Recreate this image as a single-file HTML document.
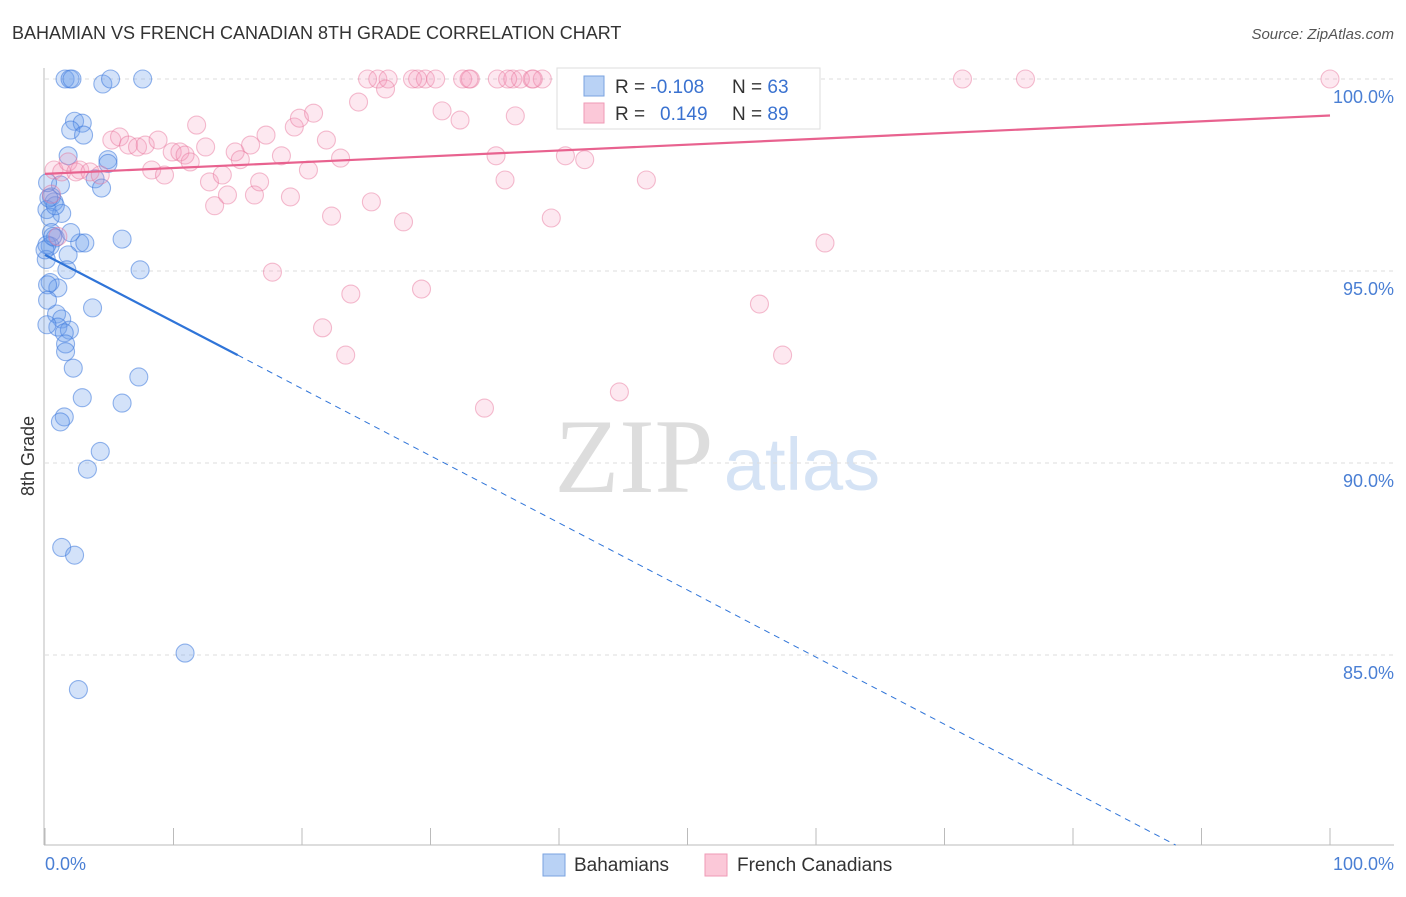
<!DOCTYPE html>
<html><head><meta charset="utf-8"><style>
body{margin:0;background:#fff;font-family:"Liberation Sans",sans-serif;}
svg text{font-family:"Liberation Sans",sans-serif;}
</style></head><body>
<svg id="c" width="1406" height="892">
<text x="12" y="39" font-size="18" fill="#333">BAHAMIAN VS FRENCH CANADIAN 8TH GRADE CORRELATION CHART</text>
<text x="1394" y="39" font-size="15" fill="#555" font-style="italic" text-anchor="end">Source: ZipAtlas.com</text>
<g>
<text x="634" y="492" font-size="106" fill="#ddd" text-anchor="middle" style="font-family:'Liberation Serif',serif">ZIP</text>
<text x="802" y="490" font-size="74" fill="#d5e3f5" text-anchor="middle">atlas</text>
</g>
<g id="grid"></g><g id="axes"></g><g id="pts"></g><g id="trend"></g>
<text transform="translate(34,456) rotate(-90)" font-size="18" fill="#333" text-anchor="middle">8th Grade</text>
<text x="45" y="870" font-size="18" fill="#4a7fd4">0.0%</text>
<text x="1394" y="870" font-size="18" fill="#4a7fd4" text-anchor="end">100.0%</text>
<g>
<rect x="557" y="68" width="263" height="61" fill="#fff" stroke="#ddd"/>
<rect x="584" y="76" width="20" height="20" fill="#b9d2f5" stroke="#7aa3e0"/>
<rect x="584" y="103" width="20" height="20" fill="#fbc8d8" stroke="#ef9ab6"/>
<text x="615" y="93" font-size="19" fill="#333">R = <tspan fill="#3a72d0">-0.108</tspan></text>
<text x="732" y="93" font-size="19" fill="#333">N = <tspan fill="#3a72d0">63</tspan></text>
<text x="615" y="120" font-size="19" fill="#333">R = <tspan fill="#3a72d0" x="660">0.149</tspan></text>
<text x="732" y="120" font-size="19" fill="#333">N = <tspan fill="#3a72d0">89</tspan></text>
</g>
<g>
<rect x="543" y="854" width="22" height="22" fill="#b9d2f5" stroke="#7aa3e0"/>
<text x="574" y="871" font-size="19" fill="#333">Bahamians</text>
<rect x="705" y="854" width="22" height="22" fill="#fbc8d8" stroke="#ef9ab6"/>
<text x="737" y="871" font-size="19" fill="#333">French Canadians</text>
</g>
</svg>
<script>
const yTicks=[100,95,90,85];
const yTickLabels=["100.0%","95.0%","90.0%","85.0%"];
const xTicks=[0,10,20,30,40,50,60,70,80,90,100];
const blueX=[1.56,1.95,2.1,4.5,5.1,7.6,2.3,2.9,2.0,3.0,1.8,4.9,4.9,3.9,1.2,4.4,0.5,0.7,0.15,1.3,0.4,0.5,0.8,2.7,3.1,6.0,0.4,1.8,0.1,7.4,1.7,0.4,1.0,3.7,0.9,1.3,1.0,1.9,1.5,1.6,1.6,2.2,2.9,6.0,7.3,1.5,1.2,4.3,3.3,1.3,2.3,10.9,2.6,0.15,0,0.2,0.2,0.15,0.8,0.3,2.0,0.6,0.2];
const blueY=[100,100,100,99.87,100,100,98.9,98.85,98.67,98.54,98.0,97.9,97.8,97.4,97.24,97.16,96.93,96.8,96.6,96.5,96.4,96.0,95.86,95.73,95.73,95.83,95.65,95.42,95.3,95.03,95.03,94.7,94.56,94.04,93.88,93.75,93.54,93.46,93.39,93.1,92.9,92.47,91.7,91.56,92.24,91.2,91.07,90.3,89.84,87.8,87.6,85.05,84.1,95.68,95.55,94.64,94.24,93.6,96.7,96.9,96.0,95.9,97.3];
const pinkX=[25.1,25.9,26.7,28.6,29.6,30.4,32.5,33.1,35.2,36.4,37.0,37.9,38.7,47.9,48.5,59.5,71.4,76.3,100,0.7,1.3,1.8,2.4,2.7,3.5,4.3,5.2,5.8,6.5,7.2,7.8,8.8,8.3,9.3,9.9,10.5,10.9,11.3,11.8,12.5,12.8,13.2,13.8,14.2,14.8,15.2,16.0,16.3,16.7,17.2,17.7,18.4,19.1,19.4,19.8,20.5,20.9,21.6,21.9,22.3,23.0,23.4,23.8,24.4,25.4,26.5,27.9,29.3,30.9,32.3,34.2,35.1,35.8,36.6,39.4,40.5,42.0,44.7,46.8,55.6,57.4,60.7,0.5,1.0,29.0,33.0,36.0,38.0,48.0];
const pinkY=[100,100,100,100,100,100,100,100,100,100,100,100,100,100,100,100,100,100,100,97.63,97.58,97.84,97.58,97.63,97.58,97.5,98.41,98.49,98.28,98.23,98.28,98.41,97.63,97.5,98.1,98.1,98.02,97.84,98.8,98.23,97.32,96.7,97.5,96.98,98.1,97.9,98.28,96.98,97.32,98.54,94.97,98.0,96.93,98.75,98.98,97.63,99.11,93.52,98.41,96.43,97.94,92.81,94.4,99.4,96.8,99.74,96.28,94.53,99.17,98.93,91.43,98.0,97.37,99.04,96.38,98.0,97.9,91.85,97.37,94.14,92.81,95.73,97.0,95.9,100,100,100,100,100];
const blueTrendX=[0,15,88];
const blueTrendY=[95.42,92.81,80.05];
const pinkTrendX=[0,100];
const pinkTrendY=[97.53,99.05];
const sx=v=>45+v*12.85;
const sy=v=>79+(100-v)*38.4;
const NS="http://www.w3.org/2000/svg";
function mk(tag,attrs,parent){const e=document.createElementNS(NS,tag);for(const k in attrs)e.setAttribute(k,attrs[k]);parent.appendChild(e);return e;}
const grid=document.getElementById('grid'),axes=document.getElementById('axes'),pts=document.getElementById('pts'),trend=document.getElementById('trend');
yTicks.forEach((t,i)=>{
 const l=mk('line',{x1:45,x2:1394,y1:sy(t),y2:sy(t),stroke:'#ddd','stroke-dasharray':'4,4'},grid);
 
 
 const tx=mk('text',{x:1394,y:sy(t)+24,'font-size':18,fill:'#4a7fd4','text-anchor':'end'},grid);
 tx.textContent=yTickLabels[i];
 
 
});
const ya=mk('line',{x1:44,x2:44,y1:68,y2:845,stroke:'#bbb'},axes);


const xa=mk('line',{x1:44,x2:1394,y1:845,y2:845,stroke:'#bbb'},axes);


xTicks.forEach(t=>{
 const l=mk('line',{x1:sx(t),x2:sx(t),y1:828,y2:845,stroke:'#bbb'},axes);
 
 
});
blueX.forEach((x,i)=>{
 const c=mk('circle',{cx:sx(x),cy:sy(blueY[i]),r:9,fill:'rgba(110,160,235,0.3)',stroke:'rgba(60,120,220,0.55)','stroke-width':1.1},pts);
 
 
});
pinkX.forEach((x,i)=>{
 const c=mk('circle',{cx:sx(x),cy:sy(pinkY[i]),r:9,fill:'rgba(245,150,185,0.22)',stroke:'rgba(230,110,150,0.45)','stroke-width':1.1},pts);
 
 
});
const b1=mk('line',{x1:sx(blueTrendX[0]),y1:sy(blueTrendY[0]),x2:sx(blueTrendX[1]),y2:sy(blueTrendY[1]),stroke:'#2f74d8','stroke-width':2.2},trend);


const b2=mk('line',{x1:sx(blueTrendX[1]),y1:sy(blueTrendY[1]),x2:sx(blueTrendX[2]),y2:sy(blueTrendY[2]),stroke:'#2f74d8','stroke-width':1,'stroke-dasharray':'6,5'},trend);


const p1=mk('line',{x1:sx(pinkTrendX[0]),y1:sy(pinkTrendY[0]),x2:sx(pinkTrendX[1]),y2:sy(pinkTrendY[1]),stroke:'#e8628f','stroke-width':2.2},trend);


</script>
</body></html>
